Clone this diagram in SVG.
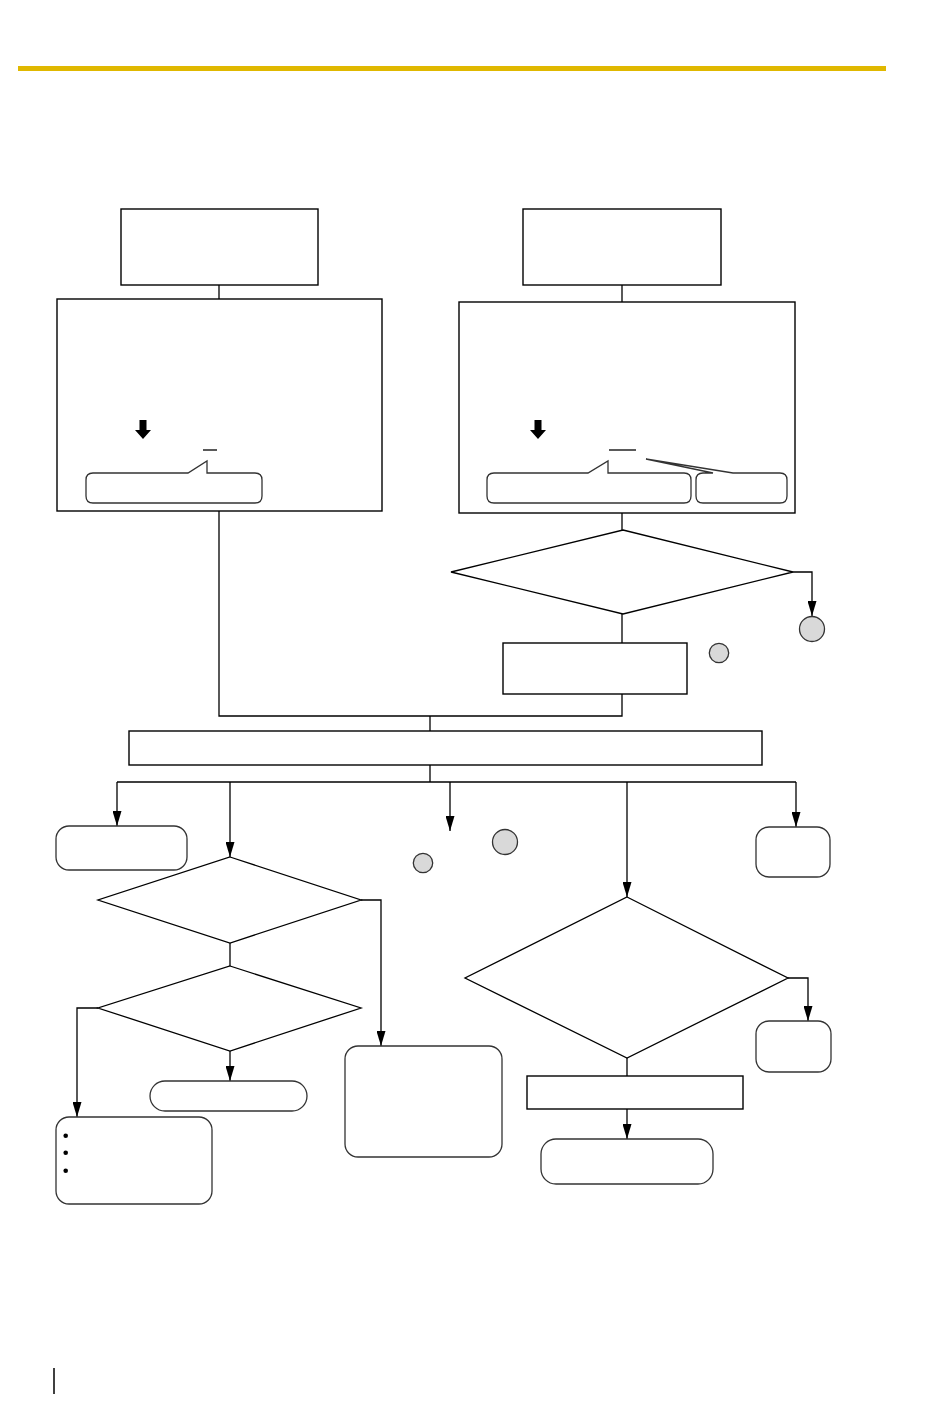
<svg xmlns="http://www.w3.org/2000/svg" width="950" height="1407" viewBox="0 0 950 1407">
<style>
.box{fill:#fff;stroke:#000;stroke-width:1.4}
.rbox{fill:#fff;stroke:#333;stroke-width:1.3}
.dia{fill:#fff;stroke:#000;stroke-width:1.3}
.conn{fill:none;stroke:#000;stroke-width:1.3}
.arr{fill:none;stroke:#000;stroke-width:1.3;marker-end:url(#ah)}
.circ{fill:#d9d9d9;stroke:#333;stroke-width:1.3}
.glyph{fill:#000}
</style>
<defs>
<marker id="ah" markerUnits="userSpaceOnUse" markerWidth="15" markerHeight="9" viewBox="0 0 15 9" refX="15" refY="4.5" orient="auto">
<path d="M0,0 L15,4.5 L0,9 z" fill="#000"/>
</marker>
</defs>
<rect x="18" y="66" width="868" height="5" fill="#e0b800"/>
<line x1="54" y1="1368" x2="54" y2="1394" stroke="#000" stroke-width="1.5"/>

<g id="connectors">
<line class="conn" x1="219" y1="285" x2="219" y2="299"/>
<line class="conn" x1="622" y1="285" x2="622" y2="302"/>
<line class="conn" x1="622" y1="513" x2="622" y2="530"/>
<path class="arr" d="M793,572 H812 V616"/>
<line class="conn" x1="622" y1="614" x2="622" y2="643"/>
<path class="conn" d="M622,694 V716 H219 V511"/>
<line class="conn" x1="430" y1="716" x2="430" y2="731"/>
<line class="conn" x1="430" y1="765" x2="430" y2="782"/>
<line class="conn" x1="117" y1="782" x2="796" y2="782"/>
<line class="arr" x1="117" y1="782" x2="117" y2="826"/>
<line class="arr" x1="230" y1="782" x2="230" y2="857"/>
<line class="arr" x1="450" y1="782" x2="450" y2="831"/>
<line class="arr" x1="627" y1="782" x2="627" y2="897"/>
<line class="arr" x1="796" y1="782" x2="796" y2="827"/>
<path class="arr" d="M361,900 H381 V1046"/>
<line class="conn" x1="230" y1="943" x2="230" y2="966"/>
<line class="arr" x1="230" y1="1051" x2="230" y2="1081"/>
<path class="arr" d="M98,1008 H77 V1117"/>
<path class="arr" d="M788,978 H808 V1021"/>
<line class="conn" x1="627" y1="1058" x2="627" y2="1076"/>
<line class="arr" x1="627" y1="1109" x2="627" y2="1139"/>
</g>

<g id="top-left-box"><rect class="box" x="121" y="209" width="197" height="76"/></g>
<g id="top-right-box"><rect class="box" x="523" y="209" width="198" height="76"/></g>

<g id="left-panel">
<rect class="box" x="57" y="299" width="325" height="212"/>
<path class="glyph" d="M139.5,420 H146.5 V430 H151 L143,439 L135,430 H139.5 Z"/>
<line x1="203" y1="450" x2="217" y2="450" stroke="#000" stroke-width="1.3"/>
<path class="rbox" d="M93,473 H188 L207,461 V473 H255 Q262,473 262,480 V496 Q262,503 255,503 H93 Q86,503 86,496 V480 Q86,473 93,473 Z"/>
</g>

<g id="right-panel">
<rect class="box" x="459" y="302" width="336" height="211"/>
<path class="glyph" d="M534.5,420 H541.5 V430 H546 L538,439 L530,430 H534.5 Z"/>
<line x1="609" y1="450" x2="636" y2="450" stroke="#000" stroke-width="1.3"/>
<path class="rbox" d="M494,473 H588 L608,461 V473 H684 Q691,473 691,480 V496 Q691,503 684,503 H494 Q487,503 487,496 V480 Q487,473 494,473 Z"/>
<path class="rbox" d="M713,473 L646,459 L733,473 H780 Q787,473 787,480 V496 Q787,503 780,503 H703 Q696,503 696,496 V480 Q696,473 703,473 Z"/>
</g>

<g id="decision-1"><polygon class="dia" points="623,530 793,572 623,614 451,572"/></g>
<g id="connector-a"><circle class="circ" cx="812" cy="629" r="12.5"/></g>
<g id="connector-b-small"><circle class="circ" cx="719" cy="653" r="9.7"/></g>
<g id="process-1"><rect class="box" x="503" y="643" width="184" height="51"/></g>
<g id="wide-process"><rect class="box" x="129" y="731" width="633" height="34"/></g>

<g id="end-1"><rect class="rbox" x="56" y="826" width="131" height="44" rx="13"/></g>
<g id="decision-2"><polygon class="dia" points="230,857 361,900 230,943 98,900"/></g>
<g id="decision-3"><polygon class="dia" points="230,966 361,1008 230,1051 98,1008"/></g>
<g id="end-2"><rect class="rbox" x="150" y="1081" width="157" height="30" rx="15"/></g>
<g id="list-box">
<rect class="rbox" x="56" y="1117" width="156" height="87" rx="13"/>
<circle class="glyph" cx="65.7" cy="1135.7" r="2.3"/>
<circle class="glyph" cx="65.7" cy="1152.7" r="2.3"/>
<circle class="glyph" cx="65.7" cy="1170.7" r="2.3"/>
</g>
<g id="note-box"><rect class="rbox" x="345" y="1046" width="157" height="111" rx="13"/></g>
<g id="connector-c-small"><circle class="circ" cx="423" cy="863" r="9.7"/></g>
<g id="connector-c"><circle class="circ" cx="505" cy="842" r="12.5"/></g>

<g id="decision-4"><polygon class="dia" points="627,897 788,978 627,1058 465,978"/></g>
<g id="end-3"><rect class="rbox" x="756" y="1021" width="75" height="51" rx="13"/></g>
<g id="process-2"><rect class="box" x="527" y="1076" width="216" height="33"/></g>
<g id="end-4"><rect class="rbox" x="541" y="1139" width="172" height="45" rx="15"/></g>
<g id="end-5"><rect class="rbox" x="756" y="827" width="74" height="50" rx="13"/></g>
</svg>
